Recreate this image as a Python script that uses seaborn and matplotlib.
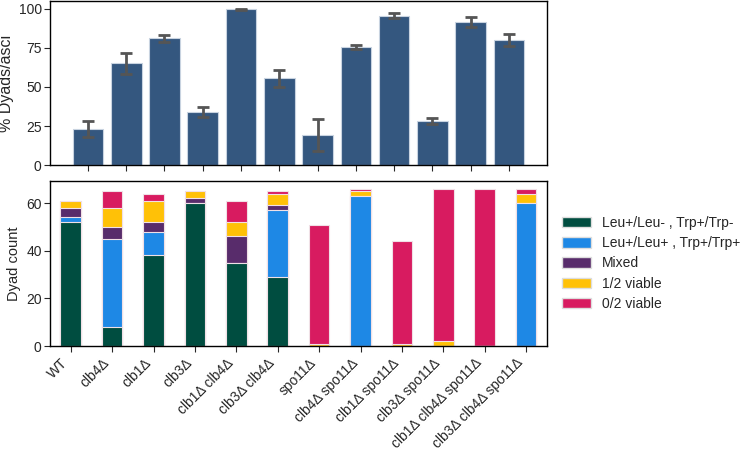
import numpy as np
import matplotlib
matplotlib.use("Agg")
import matplotlib.pyplot as plt
from matplotlib.patches import Patch
import seaborn as sns


# Strains (x axis, shared)
strains = ["WT", "clb4Δ", "clb1Δ", "clb3Δ", "clb1Δ clb4Δ", "clb3Δ clb4Δ",
           "spo11Δ", "clb4Δ spo11Δ", "clb1Δ spo11Δ", "clb3Δ spo11Δ",
           "clb1Δ clb4Δ spo11Δ", "clb3Δ clb4Δ spo11Δ"]

# Top panel: % dyads/asci with error range
dyad_pct = [23, 65, 81, 34, 100, 55.5, 19.5, 75.5, 95.5, 28, 91.5, 80]
err_low = [18, 58, 79, 31, 99.5, 50, 9, 74, 94, 26, 88, 76]
err_high = [28, 72, 83, 37, 100, 61, 29.5, 77, 97, 30, 95, 84]

# Bottom panel: dyad counts per class
classes = ["Leu+/Leu- , Trp+/Trp-", "Leu+/Leu+ , Trp+/Trp+", "Mixed",
           "1/2 viable", "0/2 viable"]
het = [52, 8, 38, 60, 35, 29, 0, 0, 0, 0, 0, 0]
homo = [2, 37, 10, 0, 0, 28, 0, 63, 0, 0, 0, 60]
mixed = [4, 5, 4, 2, 11, 2, 0, 0, 0, 0, 0, 0]
half_viable = [3, 8, 9, 3, 6, 5, 1, 2, 1, 2, 0, 4]
none_viable = [0, 7, 3, 0, 9, 1, 50, 1, 43, 64, 66, 2]
class_colors = ["#004D40", "#1E88E5", "#582C6B", "#FFC107", "#D81B60"]

sns.set_style("ticks")
plt.rcParams["font.family"] = ["Liberation Sans", "DejaVu Sans"]
plt.rcParams["font.size"] = 10

fig = plt.figure(figsize=(7.47, 4.5), dpi=100)
ax1 = fig.add_axes([0.067, 0.633, 0.665, 0.365])
ax2 = fig.add_axes([0.067, 0.231, 0.665, 0.367])

# -----------------------------
# TOP: % dyads
# -----------------------------
sns.barplot(x=strains, y=dyad_pct, color="#34577F", saturation=1,
            width=0.8, errorbar=None, edgecolor="#c8d3e0", linewidth=0.8, ax=ax1)
pct = np.array(dyad_pct)
yerr = [pct - np.array(err_low), np.array(err_high) - pct]
ax1.errorbar(np.arange(len(strains)), pct, yerr=yerr, fmt="none",
             ecolor="#555555", elinewidth=2, capsize=4.5, capthick=2)
ax1.set_ylabel("% Dyads/asci", fontsize=11.5, labelpad=3)
ax1.set_yticks([0, 25, 50, 75, 100])
ax1.set_xticklabels([])

# -----------------------------
# BOTTOM: stacked dyad counts
# -----------------------------
layers = np.cumsum([het, homo, mixed, half_viable, none_viable], axis=0)
for i in range(len(classes) - 1, -1, -1):
    sns.barplot(x=strains, y=layers[i], color=class_colors[i], saturation=1,
                width=0.5, errorbar=None, edgecolor="#f0e0e6", linewidth=0.8, ax=ax2)
ax2.set_ylabel("Dyad count", fontsize=10.5)
ax2.set_yticks([0, 20, 40, 60])
ax2.set_xticks(np.arange(len(strains)))
ax2.set_xticklabels(strains, rotation=45, ha="right", fontsize=9.5)

handles = [Patch(facecolor=c, edgecolor="#dddddd", label=l)
           for c, l in zip(class_colors, classes)]
ax2.legend(handles=handles, loc="center left", bbox_to_anchor=(1.005, 0.5),
           frameon=False, fontsize=10, handlelength=2.1, handleheight=0.8,
           handletextpad=0.8, labelspacing=0.45)

for ax in (ax1, ax2):
    for s in ax.spines.values():
        s.set_color("black")
        s.set_linewidth(1)
    ax.tick_params(length=4, pad=2, labelsize=10)
    ax.set_xlabel("")
ax2.tick_params(axis="x", pad=3)

fig.savefig("out.png", dpi=100)
